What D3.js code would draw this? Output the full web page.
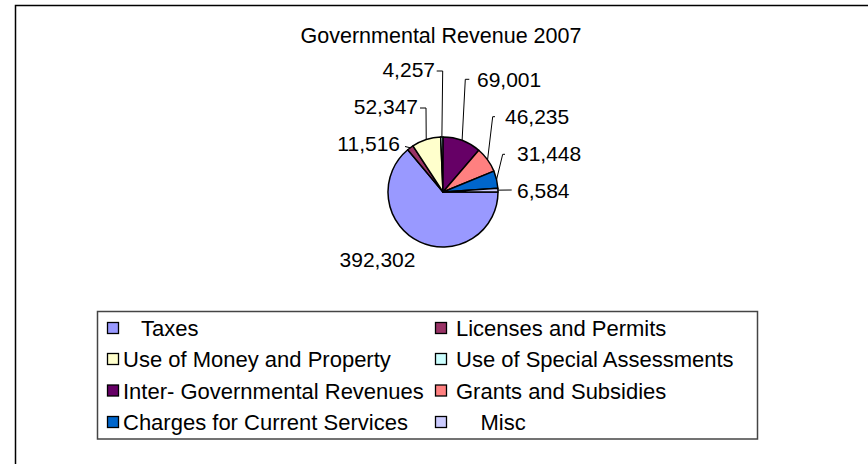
<!DOCTYPE html>
<html>
<head>
<meta charset="utf-8">
<script src="https://cdn.jsdelivr.net/npm/d3@7"></script>
<style>
  html, body { margin: 0; padding: 0; background: #fff; }
  svg { display: block; font-family: "Liberation Sans", Arial, sans-serif; }
  text { white-space: pre; }
</style>
</head>
<body>
<svg id="chart" width="868" height="464"></svg>
<script>
// ---- data ----
const title = "Governmental Revenue 2007";
const categories = [
  "Taxes",
  "Licenses and Permits",
  "Use of Money and Property",
  "Use of Special Assessments",
  "Inter- Governmental Revenues",
  "Grants and Subsidies",
  "Charges for Current Services",
  "Misc"
];
const legendLabels = [
  "   Taxes",
  "Licenses and Permits",
  "Use of Money and Property",
  "Use of Special Assessments",
  "Inter- Governmental Revenues",
  "Grants and Subsidies",
  "Charges for Current Services",
  "    Misc"
];
const values = [392302, 11516, 52347, 4257, 69001, 46235, 31448, 6584];
const colors = ["#9999FF", "#993366", "#FFFFCC", "#CCFFFF", "#660066", "#FF8080", "#0066CC", "#CCCCFF"];

// ---- layout (label placement relative to pie centre) ----
const cx = 443, cy = 192, radius = 55;
const labelLayout = [
  { tx: -65.5, ty: 75,   anchor: "middle", bend: null },
  { tx: -43,   ty: -41,  anchor: "end",   bend: [-38, -45.5], tick: -38 },
  { tx: -25,   ty: -78,  anchor: "end",   bend: [-17, -84],   tick: -23 },
  { tx: -8,    ty: -115, anchor: "end",   bend: [-0.3, -121], tick: -6.3 },
  { tx: 34,    ty: -105, anchor: "start", bend: [22.3, -112.7], tick: 26.3 },
  { tx: 62,    ty: -68,  anchor: "start", bend: [49.7, -75.3], tick: 52 },
  { tx: 74,    ty: -31,  anchor: "start", bend: [59.7, -37.7], tick: 62 },
  { tx: 74,    ty: 6,    anchor: "start", bend: [68.7, -2],    tick: 68.7 }
];

const svg = d3.select("#chart");

// outer chart border
svg.append("rect")
  .attr("x", 15.5).attr("y", 5.5)
  .attr("width", 1000).attr("height", 1000)
  .attr("fill", "#fff").attr("stroke", "#000").attr("stroke-width", 1.5);

// title
svg.append("text")
  .attr("x", 441).attr("y", 43)
  .attr("text-anchor", "middle")
  .attr("font-size", 21.5)
  .text(title);

// pie
const pie = d3.pie().sort(null).value(d => d)
  .startAngle(Math.PI / 2).endAngle(Math.PI / 2 + 2 * Math.PI);
const arcs = pie(values);
const arc = d3.arc().innerRadius(0).outerRadius(radius);

const g = svg.append("g").attr("transform", `translate(${cx},${cy})`);
g.selectAll("path.slice")
  .data(arcs)
  .join("path")
  .attr("class", "slice")
  .attr("d", arc)
  .attr("fill", (d, i) => colors[i])
  .attr("stroke", "#000")
  .attr("stroke-width", 1.5)
  .attr("stroke-linejoin", "round");

// leader lines + data labels
const fmt = d3.format(",");
arcs.forEach((d, i) => {
  const L = labelLayout[i];
  if (L.bend) {
    const a = (d.startAngle + d.endAngle) / 2;
    const ex = radius * Math.sin(a), ey = -radius * Math.cos(a);
    const pts = [[ex, ey], L.bend, [L.tick, L.bend[1]]];
    g.append("path")
      .attr("d", d3.line()(pts))
      .attr("fill", "none")
      .attr("stroke", "#000")
      .attr("stroke-width", 1);
  }
  g.append("text")
    .attr("x", L.tx).attr("y", L.ty)
    .attr("text-anchor", L.anchor)
    .attr("font-size", 21)
    .text(fmt(d.data));
});

// legend
const lg = svg.append("g");
lg.append("rect")
  .attr("x", 97.5).attr("y", 311.5)
  .attr("width", 660).attr("height", 127.5)
  .attr("fill", "#fff").attr("stroke", "#444").attr("stroke-width", 1.5);

const colSwatchX = [107, 435];
const colTextX = [123, 456];
const rowBase = [336, 367, 398.5, 430];

legendLabels.forEach((lab, i) => {
  const col = i % 2, row = Math.floor(i / 2);
  lg.append("rect")
    .attr("x", colSwatchX[col] + 0.5).attr("y", rowBase[row] - 13.5)
    .attr("width", 11).attr("height", 11)
    .attr("fill", colors[i]).attr("stroke", "#000").attr("stroke-width", 1.3);
  lg.append("text")
    .attr("x", colTextX[col]).attr("y", rowBase[row])
    .attr("font-size", 22)
    .text(lab);
});
</script>
</body>
</html>
